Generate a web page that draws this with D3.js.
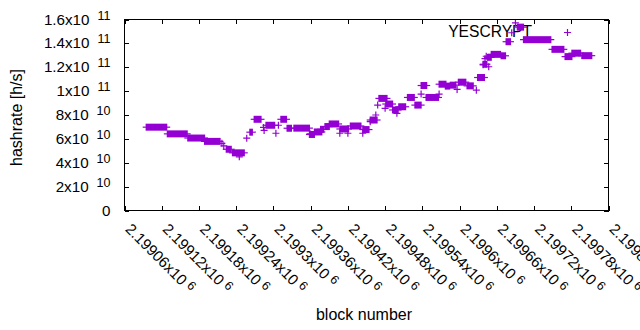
<!DOCTYPE html>
<html><head><meta charset="utf-8">
<script src="https://cdn.jsdelivr.net/npm/d3@7/dist/d3.min.js"></script>
<style>
body{margin:0;background:#fff}
text{font-family:"Liberation Sans",Arial,sans-serif;fill:#000}
</style>
</head><body>
<svg id="chart" width="640" height="330"></svg>
<script>
// ---- data (hashrate in h/s) ----
// runs of consecutive blocks that share (nearly) the same hashrate
const runStart = [2199095,2199129,2199162,2199189,2199224,2199234,2199262,2199269,2199288,2199312,2199322,2199333,2199358,2199366,2199376,2199383,2199390,2199407,2199424,2199444,2199456,2199470,2199481,2199492,2199502,2199516,2199528,2199538,2199546,2199567,2199577,2199585,2199598,2199612,2199629,2199638,2199645,2199651,2199667,2199675,2199693,2199703,2199749,2199770,2199781,2199797];
const runEnd   = [2199128,2199161,2199189,2199214,2199232,2199253,2199266,2199280,2199302,2199321,2199329,2199358,2199366,2199378,2199381,2199390,2199405,2199421,2199441,2199454,2199467,2199483,2199492,2199501,2199513,2199527,2199538,2199547,2199566,2199578,2199584,2199594,2199610,2199622,2199640,2199644,2199651,2199666,2199674,2199682,2199703,2199747,2199768,2199781,2199795,2199813];
const runValue = [6.98e10,6.42e10,6.07e10,5.79e10,5.13e10,4.83e10,6.56e10,7.64e10,7.14e10,7.64e10,6.89e10,6.9e10,6.37e10,6.58e10,6.8e10,7.03e10,7.25e10,6.83e10,7.08e10,6.78e10,7.58e10,9.39e10,8.92e10,8.42e10,8.69e10,9.47e10,8.83e10,10.47e10,9.47e10,10.58e10,10.42e10,10.5e10,10.75e10,10.44e10,11.14e10,12.25e10,12.83e10,13.08e10,12.96e10,14.14e10,15.36e10,14.31e10,13.5e10,12.89e10,13.18e10,12.97e10];
// isolated blocks
const pointBlock = [2199217,2199220,2199245,2199257,2199284,2199285,2199304,2199308,2199359,2199407,2199420,2199444,2199456,2199465,2199468,2199480,2199499,2199538,2199567,2199596,2199627,2199638,2199641,2199643,2199647,2199684,2199690];
const pointValue = [5.63e10,5.42e10,4.5e10,6.06e10,6.96e10,6.71e10,6.47e10,7.14e10,6.42e10,6.47e10,6.47e10,6.47e10,7.44e10,8.0e10,8.83e10,8.56e10,8.14e10,9.75e10,9.75e10,10.14e10,10.08e10,12.2e10,12.72e10,12.92e10,12.04e10,14.89e10,15.71e10];

const xTickValues = [2199060,2199120,2199180,2199240,2199300,2199360,2199420,2199480,2199540,2199600,2199660,2199720,2199780,2199840];
const xTickMantissa = ["2.19906","2.19912","2.19918","2.19924","2.1993","2.19936","2.19942","2.19948","2.19954","2.1996","2.19966","2.19972","2.19978","2.19984"];
const xTickExponent = "6";
const yTickValues = [0,2e10,4e10,6e10,8e10,1e11,1.2e11,1.4e11,1.6e11];
const yTickMantissa = ["0","2","4","6","8","1","1.2","1.4","1.6"];
const yTickExponent = ["","10","10","10","10","11","11","11","11"];
const seriesName = "YESCRYPT";
const color = "#9400d3";

// ---- drawing ----
const svg = d3.select("#chart");
const x = d3.scaleLinear().domain([2199060,2199840]).range([124.5,608.5]);
const y = d3.scaleLinear().domain([0,1.6e11]).range([210.5,19.5]);
const T = 4.5, H = 3.5;

// ticks (inward, mirrored)
const g = svg.append("g").attr("stroke","#000").attr("stroke-width",1).attr("shape-rendering","crispEdges");
yTickValues.forEach(v=>{
  g.append("line").attr("x1",x.range()[0]).attr("x2",x.range()[0]+T).attr("y1",Math.round(y(v))+0.5).attr("y2",Math.round(y(v))+0.5);
  g.append("line").attr("x1",x.range()[1]).attr("x2",x.range()[1]-T).attr("y1",Math.round(y(v))+0.5).attr("y2",Math.round(y(v))+0.5);
});
xTickValues.forEach(v=>{
  g.append("line").attr("x1",Math.round(x(v))+0.5).attr("x2",Math.round(x(v))+0.5).attr("y1",y.range()[0]).attr("y2",y.range()[0]-T);
  g.append("line").attr("x1",Math.round(x(v))+0.5).attr("x2",Math.round(x(v))+0.5).attr("y1",y.range()[1]).attr("y2",y.range()[1]+T);
});

// y tick labels
yTickValues.forEach((v,i)=>{
  const t = svg.append("text").attr("x",110.5).attr("y",y(v)+5).attr("text-anchor","end").attr("font-size",15.2);
  if (yTickExponent[i]) {
    t.append("tspan").text(yTickMantissa[i]+"x10");
    t.append("tspan").attr("dx",8).attr("dy",-5).attr("font-size",12.5).text(yTickExponent[i]);
  } else t.text(yTickMantissa[i]);
});
// x tick labels (rotated)
xTickValues.forEach((v,i)=>{
  const t = svg.append("text").attr("transform",`translate(${x(v)},230) rotate(45)`).attr("font-size",15.2);
  t.append("tspan").text(xTickMantissa[i]+"x10");
  t.append("tspan").attr("dx",4).attr("dy",-4).attr("font-size",12.5).text(xTickExponent);
});

// axis titles
svg.append("text").attr("transform","translate(22,117.5) rotate(-90)").attr("text-anchor","middle").attr("font-size",16).text("hashrate [h/s]");
svg.append("text").attr("x",364).attr("y",320).attr("text-anchor","middle").attr("font-size",16).text("block number");

// key
svg.append("text").attr("x",532).attr("y",37.3).attr("text-anchor","end").attr("font-size",15.6).text(seriesName);
svg.append("path").attr("d",`M${567.5-H},32.5H${567.5+H}M567.5,${32.5-H}V${32.5+H}`).attr("stroke",color).attr("stroke-width",1.2).attr("fill","none");

// data: runs of points
const runs = runStart.map((s,i)=>({s, e:runEnd[i], v:runValue[i]}));
const pg = svg.append("g");
pg.selectAll("rect.run").data(runs).join("rect").attr("class","run")
  .attr("x",d=>x(d.s)-0.6).attr("width",d=>x(d.e)-x(d.s)+1.2)
  .attr("y",d=>y(d.v)-H).attr("height",2*H).attr("fill",color);
pg.selectAll("line.arm").data(runs).join("line").attr("class","arm")
  .attr("x1",d=>x(d.s)-H).attr("x2",d=>x(d.e)+H).attr("y1",d=>y(d.v)).attr("y2",d=>y(d.v))
  .attr("stroke",color).attr("stroke-width",1.2);
// isolated points
const pts = pointBlock.map((b,i)=>({b, v:pointValue[i]}));
pg.selectAll("path.pt").data(pts).join("path").attr("class","pt")
  .attr("d",d=>{const cx=x(d.b), cy=y(d.v); return `M${cx-H},${cy}H${cx+H}M${cx},${cy-H}V${cy+H}`;})
  .attr("stroke",color).attr("stroke-width",1.2).attr("fill","none");

// border
svg.append("rect").attr("x",x.range()[0]).attr("y",y.range()[1]).attr("width",x.range()[1]-x.range()[0]).attr("height",y.range()[0]-y.range()[1])
  .attr("fill","none").attr("stroke","#000").attr("stroke-width",1).attr("shape-rendering","crispEdges");
</script>
</body></html>
